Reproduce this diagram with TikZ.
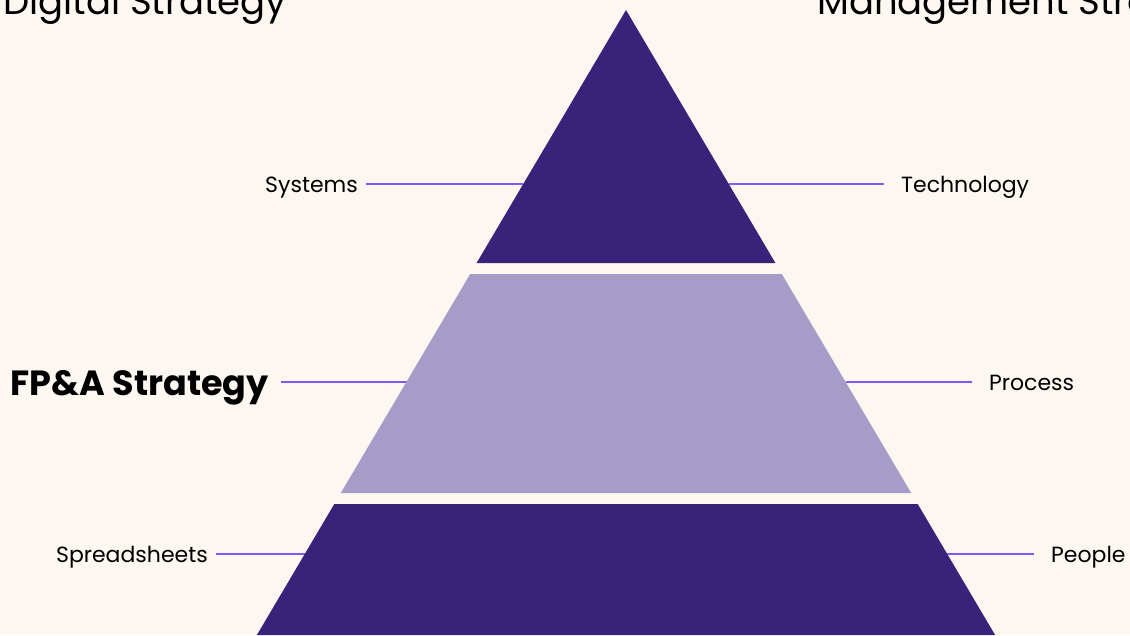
\documentclass[tikz,border=0pt]{standalone}
\usepackage{fontspec}
\setmainfont{Poppins}
\definecolor{paper}{HTML}{FCF8F1}
\definecolor{deep}{HTML}{372379}
\definecolor{soft}{HTML}{A79CC8}
\definecolor{accent}{HTML}{7B5CF0}
\tikzset{
  tier/.style={draw=none},
  lbl/.style={inner sep=0pt, text=black, font=\fontsize{22}{26}\selectfont},
  headlbl/.style={inner sep=0pt, text=black, font=\fontsize{35}{40}\selectfont\bfseries},
  title/.style={inner sep=0pt, text=black, font=\fontsize{37}{42}\selectfont},
  leader/.style={draw=accent, line width=1.8pt},
}
\begin{document}
\begin{tikzpicture}[x=1pt,y=-1pt]
\useasboundingbox (0,0) rectangle (1130,635);
\clip (0,0) rectangle (1130,635);
\fill[paper] (0,0) rectangle (1130,635);

% titles running off the top edge
\node[title, anchor=base west] (digital) at (3,14) {Digital Strategy};
\node[title, anchor=base west] (mgmt) at (817,14) {Management Strategy};

% leader end points
\coordinate (sysL) at (366,184);  \coordinate (sysE) at (523,184);
\coordinate (tecE) at (729,184);  \coordinate (tecR) at (884,184);
\coordinate (fpaL) at (281,382);  \coordinate (fpaE) at (407,382);
\coordinate (proE) at (846,382);  \coordinate (proR) at (972,382);
\coordinate (sprL) at (216,554);  \coordinate (sprE) at (306,554);
\coordinate (peoE) at (947,554);  \coordinate (peoR) at (1034,554);

\draw[leader] (sysL) -- (sysE);
\draw[leader] (tecE) -- (tecR);
\draw[leader] (fpaL) -- (fpaE);
\draw[leader] (proE) -- (proR);
\draw[leader] (sprL) -- (sprE);
\draw[leader] (peoE) -- (peoR);

% pyramid tiers
\fill[deep] (626,10) -- (775.4,263) -- (476.6,263) -- cycle;
\fill[soft] (470.2,274) -- (781.8,274) -- (911.2,493) -- (340.8,493) -- cycle;
\fill[deep] (334.3,504) -- (917.7,504) -- (995.1,635) -- (256.9,635) -- cycle;

% labels
\node[lbl, anchor=base east] (sys) at (358,192) {Systems};
\node[lbl, anchor=base west] (tec) at (901,192) {Technology};
\node[headlbl, anchor=base east] (fpa) at (269,395) {FP\&A Strategy};
\node[lbl, anchor=base west] (pro) at (989,390) {Process};
\node[lbl, anchor=base east] (spr) at (208,562) {Spreadsheets};
\node[lbl, anchor=base west] (peo) at (1051,562) {People};
\end{tikzpicture}
\end{document}
